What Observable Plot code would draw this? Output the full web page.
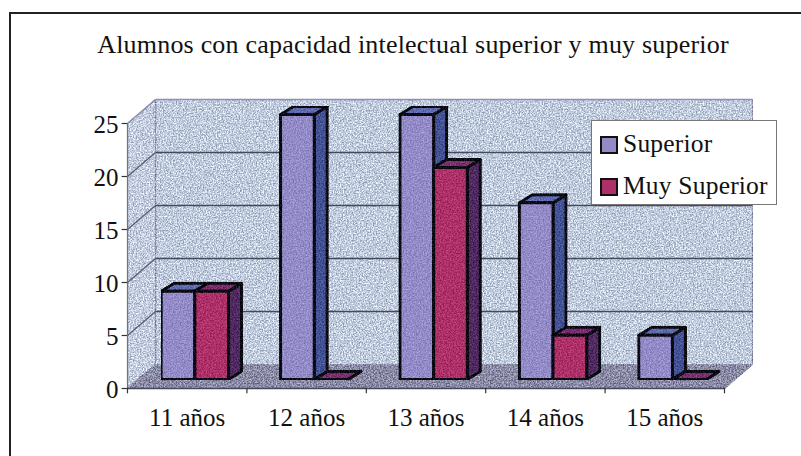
<!DOCTYPE html>
<html>
<head>
<meta charset="utf-8">
<script src="https://cdn.jsdelivr.net/npm/d3@7"></script>
<script src="https://cdn.jsdelivr.net/npm/@observablehq/plot@0.6"></script>
<style>
html,body{margin:0;padding:0;background:#fff}
#wrap{position:relative;width:801px;height:456px;overflow:hidden;font-family:"Liberation Serif",serif;color:#111}
#frame{position:absolute;left:9px;top:12px;right:-5px;bottom:-5px;border-left:2.5px solid #222;border-top:2.5px solid #222}
#title{position:absolute;left:0;top:29px;width:826px;text-align:center;font-size:26px;letter-spacing:.2px;line-height:32px;white-space:nowrap}
#legend{position:absolute;left:591px;top:120px;width:186px;height:85px;background:#fff;border:1px solid #777;box-sizing:border-box}
.item{position:absolute;left:8px;font-size:25.5px;letter-spacing:.2px;line-height:30px;white-space:nowrap;padding-left:23px}
.item i{position:absolute;left:0;top:7px;width:14px;height:14px;border:2px solid #111;display:block}
svg{position:absolute;left:0;top:0;overflow:visible}
</style>
</head>
<body>
<div id="wrap">
  <div id="frame"></div>
  <div id="title"></div>
  <div id="chart"></div>
  <div id="legend"></div>
</div>
<script>
const titleText = "Alumnos con capacidad intelectual superior y muy superior";
const categories = ["11 años", "12 años", "13 años", "14 años", "15 años"];
const seriesNames = ["Superior", "Muy Superior"];
const superior = [8.33, 25, 25, 16.67, 4.17];
const muySuperior = [8.33, 0, 20, 4.17, 0];
const yTicks = [0, 5, 10, 15, 20, 25];

const frontColors = ["#938bc8", "#ad3069"];
const sideColors = ["#425294", "#4f2a60"];
const topColors = ["#5f6bae", "#7b2d70"];

// Depth projection of the pseudo-3D box, expressed in scale units
const wallDX = 28 / 119.4, wallDY = 24 / 10.6;
const barDX = 13 / 119.4, barDY = 8 / 10.6;
const barGap = 0.282, barW = 0.282, barBase = 0.85;

const n = categories.length, yMax = d3.max(yTicks);
const poly = (id, color, pts) => pts.map(([x, y]) => ({id, color, x, y}));

const walls = [
  ...poly("back", "#c0ccdd", [[wallDX, wallDY], [n + wallDX, wallDY], [n + wallDX, yMax + wallDY], [wallDX, yMax + wallDY]]),
  ...poly("left", "#c3cddf", [[0, 0], [wallDX, wallDY], [wallDX, yMax + wallDY], [0, yMax]]),
  ...poly("floor", "#8a8aa4", [[0, 0], [n, 0], [n + wallDX, wallDY], [wallDX, wallDY]])
];

const gridBack = yTicks.filter(v => v > 0).map(v => ({v}));

const faces = [];
categories.forEach((c, i) => {
  [superior, muySuperior].forEach((vals, s) => {
    const x0 = i + barGap + s * barW, x1 = x0 + barW, b = barBase, t = vals[i] + barBase;
    faces.push(...poly(`${c}-${s}-side`, sideColors[s], [[x1, b], [x1 + barDX, b + barDY], [x1 + barDX, t + barDY], [x1, t]]));
    faces.push(...poly(`${c}-${s}-top`, topColors[s], [[x0, t], [x1, t], [x1 + barDX, t + barDY], [x0 + barDX, t + barDY]]));
    faces.push(...poly(`${c}-${s}-front`, frontColors[s], [[x0, b], [x1, b], [x1, t], [x0, t]]));
  });
});

const plot = Plot.plot({
  width: 801,
  height: 456,
  marginLeft: 0, marginRight: 0, marginTop: 0, marginBottom: 0,
  style: {background: "transparent", fontFamily: "Liberation Serif, serif", color: "#111"},
  x: {type: "linear", domain: [0, n], range: [127, 724], axis: null},
  y: {type: "linear", domain: [0, yMax], range: [388, 123], axis: null},
  color: {type: "identity"},
  marks: [
    Plot.line(walls, {x: "x", y: "y", z: "id", fill: "color", stroke: "#8f93ae", strokeWidth: 1.2, curve: "linear-closed", imageFilter: "url(#grain)"}),
    Plot.link(gridBack, {x1: wallDX, x2: n + wallDX, y1: d => d.v + wallDY, y2: d => d.v + wallDY, stroke: d => d.v === yMax ? "#8f8fb4" : "#444a5c", strokeWidth: 1.4}),
    Plot.link(gridBack, {x1: 0, x2: wallDX, y1: d => d.v, y2: d => d.v + wallDY, stroke: d => d.v === yMax ? "#8f8fb4" : "#5a5a70", strokeWidth: 1.2}),
    Plot.ruleX([0], {y1: 0, y2: yMax, stroke: "#5f7a7a", strokeWidth: 1.2}),
    Plot.ruleY([0], {x1: 0, x2: n, stroke: "#444a5c", strokeWidth: 1.4}),
    Plot.line(faces, {x: "x", y: "y", z: "id", fill: "color", stroke: "#0a0a12", strokeWidth: 3, strokeLinejoin: "round", curve: "linear-closed", imageFilter: "url(#grain2)"}),
    Plot.ruleX(d3.range(n + 1), {x: d => d, y1: 0, y2: -0.5, stroke: "#333", strokeWidth: 1.2}),
    Plot.ruleY(yTicks, {y: d => d, x1: -0.045, x2: 0, stroke: "#333", strokeWidth: 1.2}),
    Plot.text(yTicks, {x: 0, y: d => d, text: d => String(d), fontSize: 25, textAnchor: "end", dx: -9, dy: 1, fill: "#111"}),
    Plot.text(categories, {x: (d, i) => i + 0.5, y: 0, text: d => d, fontSize: 25, dy: 29, fill: "#111"})
  ]
});
const grain = (id, k3, k4) => `<filter id="${id}" x="0" y="0" width="100%" height="100%" color-interpolation-filters="sRGB">
<feTurbulence type="fractalNoise" baseFrequency="0.7" numOctaves="2" seed="4" result="n"/>
<feColorMatrix in="n" type="matrix" values="2 0 0 0 -0.5  2 0 0 0 -0.5  2 0 0 0 -0.5  0 0 0 0 1" result="g"/>
<feComposite in="SourceGraphic" in2="g" operator="arithmetic" k1="0" k2="1" k3="${k3}" k4="${k4}" result="c"/>
<feComposite in="c" in2="SourceGraphic" operator="in"/>
</filter>`;
plot.insertAdjacentHTML("afterbegin", `<defs>${grain("grain", 0.4, -0.2)}${grain("grain2", 0.2, -0.1)}</defs>`);
document.getElementById("chart").append(plot);
document.getElementById("title").textContent = titleText;
const legend = document.getElementById("legend");
seriesNames.forEach((name, i) => {
  const el = document.createElement("div");
  el.className = "item";
  el.style.top = (i === 0 ? 8 : 50) + "px";
  const sw = document.createElement("i");
  sw.style.background = frontColors[i];
  el.append(sw, name);
  legend.append(el);
});
</script>
</body>
</html>
